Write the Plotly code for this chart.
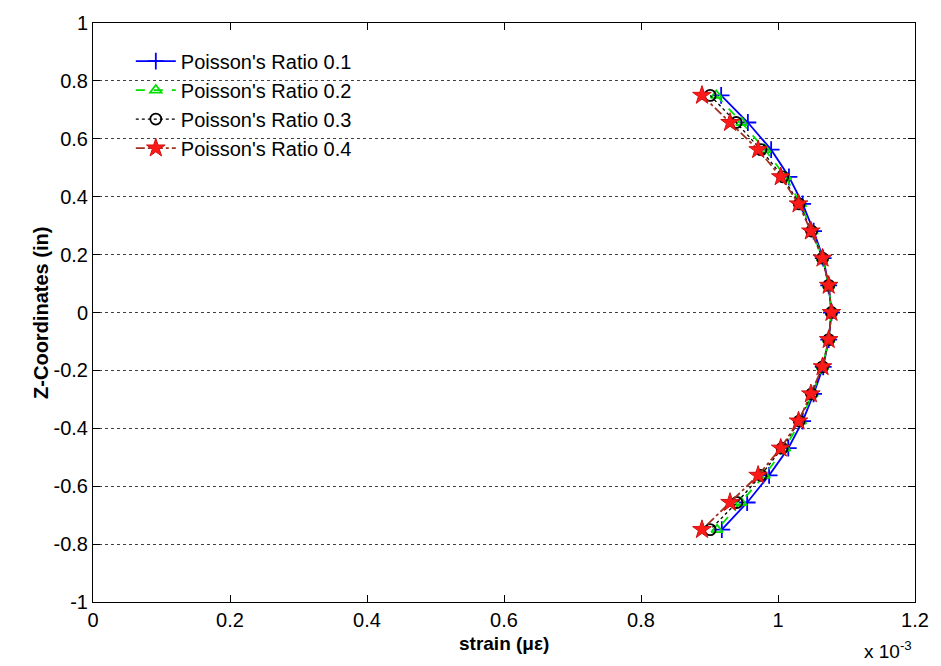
import plotly.graph_objects as go

# z-coordinates (in)
z = [0.75, 0.65625, 0.5625, 0.46875, 0.375, 0.28125, 0.1875, 0.09375, 0.0,
     -0.09375, -0.1875, -0.28125, -0.375, -0.46875, -0.5625, -0.65625, -0.75]

# strain values (x 10^-3)
strain_01 = [0.917, 0.956, 0.990, 1.016, 1.036, 1.052, 1.066, 1.074, 1.078,
             1.074, 1.066, 1.052, 1.036, 1.015, 0.987, 0.955, 0.918]
strain_02 = [0.910, 0.947, 0.981, 1.011, 1.033, 1.050, 1.065, 1.074, 1.078,
             1.074, 1.065, 1.050, 1.033, 1.010, 0.980, 0.946, 0.911]
strain_03 = [0.901, 0.939, 0.975, 1.007, 1.031, 1.049, 1.065, 1.074, 1.078,
             1.074, 1.065, 1.049, 1.031, 1.006, 0.975, 0.940, 0.901]
strain_04 = [0.889, 0.930, 0.971, 1.004, 1.030, 1.048, 1.065, 1.074, 1.078,
             1.074, 1.065, 1.048, 1.030, 1.004, 0.971, 0.930, 0.889]

names = ["Poisson's Ratio 0.1", "Poisson's Ratio 0.2",
         "Poisson's Ratio 0.3", "Poisson's Ratio 0.4"]

x_ticks = [0, 0.2, 0.4, 0.6, 0.8, 1, 1.2]
y_ticks = [-1, -0.8, -0.6, -0.4, -0.2, 0, 0.2, 0.4, 0.6, 0.8, 1]

FONT = "Liberation Sans, Arial"

fig = go.Figure()
fig.add_trace(go.Scatter(x=strain_01, y=z, name=names[0], mode="lines+markers",
                         line=dict(color="#0000ff", width=1.8, dash="solid"),
                         marker=dict(symbol="cross-thin", size=12,
                                     line=dict(color="#0000ff", width=1.8))))
fig.add_trace(go.Scatter(x=strain_02, y=z, name=names[1], mode="lines+markers",
                         line=dict(color="#00e000", width=1.8, dash="dash"),
                         marker=dict(symbol="triangle-up-open", size=10, color="#00e000",
                                     line=dict(color="#00e000", width=1.8))))
fig.add_trace(go.Scatter(x=strain_03, y=z, name=names[2], mode="lines+markers",
                         line=dict(color="#000000", width=1.3, dash="dot"),
                         marker=dict(symbol="circle-open", size=11, color="#000000",
                                     line=dict(color="#000000", width=1.8))))
fig.add_trace(go.Scatter(x=strain_04, y=z, name=names[3], mode="lines+markers",
                         line=dict(color="#a03020", width=1.8, dash="dashdot"),
                         marker=dict(symbol="star", size=14, color="#ff1a1a",
                                     line=dict(color="#d01010", width=1))))

axis_common = dict(
    showline=True, linecolor="#000000", linewidth=1, mirror="ticks",
    ticks="inside", ticklen=7, tickcolor="#000000", zeroline=False,
    tickfont=dict(family=FONT, size=20, color="#000000"),
)

fig.update_xaxes(range=[0, 1.2], tickvals=x_ticks,
                 ticktext=["0", "0.2", "0.4", "0.6", "0.8", "1", "1.2"],
                 showgrid=False, **axis_common)
fig.update_yaxes(range=[-1, 1], tickvals=y_ticks,
                 ticktext=["-1", "-0.8", "-0.6", "-0.4", "-0.2", "0",
                           "0.2", "0.4", "0.6", "0.8", "1"],
                 showgrid=True, gridcolor="#404040", gridwidth=1, griddash="dot",
                 **axis_common)

fig.update_layout(
    width=941, height=666,
    margin=dict(l=93, r=22, t=17, b=64),
    plot_bgcolor="#ffffff", paper_bgcolor="#ffffff",
    font=dict(family=FONT, color="#000000"),
    legend=dict(x=0.046, y=0.968, xanchor="left", yanchor="top",
                bgcolor="rgba(255,255,255,0)", borderwidth=0,
                font=dict(size=20, family=FONT),
                tracegroupgap=0, itemwidth=40),
    showlegend=True,
    annotations=[
        dict(text="<b>strain (με)</b>", x=0.5, y=-0.072, xref="paper", yref="paper",
             xanchor="center", yanchor="middle", showarrow=False,
             font=dict(size=19, family=FONT)),
        dict(text="<b>Z-Coordinates (in)</b>", x=-0.064, y=0.5, xref="paper", yref="paper",
             xanchor="center", yanchor="middle", textangle=-90, showarrow=False,
             font=dict(size=20, family=FONT)),
        dict(text="x 10<sup>-3</sup>", x=0.999, y=-0.083, xref="paper", yref="paper",
             xanchor="right", yanchor="middle", showarrow=False,
             font=dict(size=19, family=FONT)),
    ],
)

fig.write_html("out.html")
